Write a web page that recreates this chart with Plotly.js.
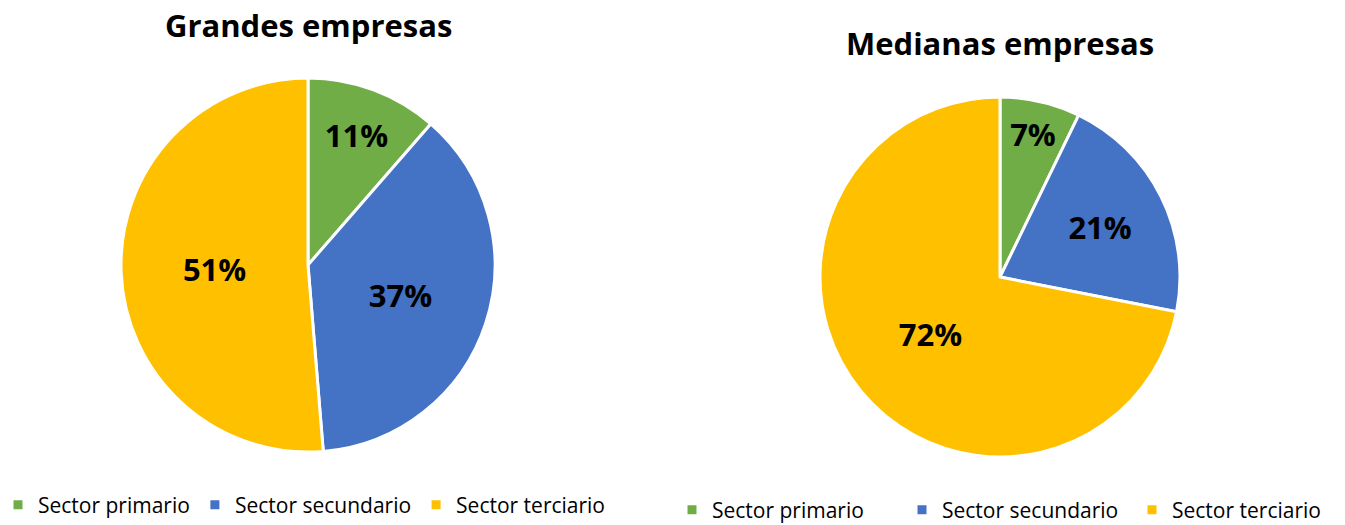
<!DOCTYPE html>
<html>
<head>
<meta charset="utf-8">
<script src="https://cdn.plot.ly/plotly-3.0.1.min.js"></script>
<style>html,body{margin:0;padding:0;background:#fff;}#chart{width:1345px;height:525px;}</style>
</head>
<body>
<div id="chart"></div>
<script>
const categories = ["Sector primario", "Sector secundario", "Sector terciario"];
const grandesValues = [11.4, 37.3, 51.3];
const medianasValues = [7.2, 20.9, 71.9];
const titles = ["Grandes empresas", "Medianas empresas"];
const colors = ["#70AD47", "#4472C4", "#FFC000"];

const W = 1345, H = 525;
function dom(cx, cy, r) {
  return {x: [(cx - r) / W, (cx + r) / W], y: [1 - (cy + r) / H, 1 - (cy - r) / H]};
}
const common = {
  type: 'pie', labels: categories, sort: false, direction: 'clockwise', rotation: 0,
  marker: {colors: colors, line: {color: '#ffffff', width: 3}},
  texttemplate: '%{percent:.0%}', textposition: 'inside', insidetextorientation: 'horizontal',
  textfont: {family: 'Open Sans, sans-serif', size: 31, color: '#000000', weight: 'bold'},
  hoverinfo: 'label+percent'
};
const data = [
  Object.assign({}, common, {values: grandesValues, domain: dom(308, 265, 187), legend: 'legend', legendgroup: 'g1'}),
  Object.assign({}, common, {values: medianasValues, domain: dom(1000, 277, 180), legend: 'legend2', legendgroup: 'g2'})
];
const legendCommon = {orientation: 'h', xanchor: 'left', yanchor: 'middle', traceorder: 'normal',
  font: {family: 'Open Sans, sans-serif', size: 21, color: '#000'}, bgcolor: 'rgba(0,0,0,0)',
  itemclick: false, tracegroupgap: 0};
const layout = {
  width: W, height: H, margin: {l: 0, r: 0, t: 0, b: 0, autoexpand: false},
  paper_bgcolor: '#ffffff', plot_bgcolor: '#ffffff',
  legend: Object.assign({}, legendCommon, {x: -2 / W, y: 1 - 505 / H}),
  legend2: Object.assign({}, legendCommon, {x: 672 / W, y: 1 - 510 / H, entrywidth: 185, entrywidthmode: 'pixels'}),
  annotations: [
    {text: '<b>' + titles[0] + '</b>', x: 308 / W, y: 1 - 25 / H, xref: 'paper', yref: 'paper',
     xanchor: 'center', yanchor: 'middle', showarrow: false,
     font: {family: 'Open Sans, sans-serif', size: 31, color: '#000'}},
    {text: '<b>' + titles[1] + '</b>', x: 1000 / W, y: 1 - 43 / H, xref: 'paper', yref: 'paper',
     xanchor: 'center', yanchor: 'middle', showarrow: false,
     font: {family: 'Open Sans, sans-serif', size: 31, color: '#000'}}
  ]
};
Plotly.newPlot('chart', data, layout, {displayModeBar: false});
</script>
</body>
</html>
